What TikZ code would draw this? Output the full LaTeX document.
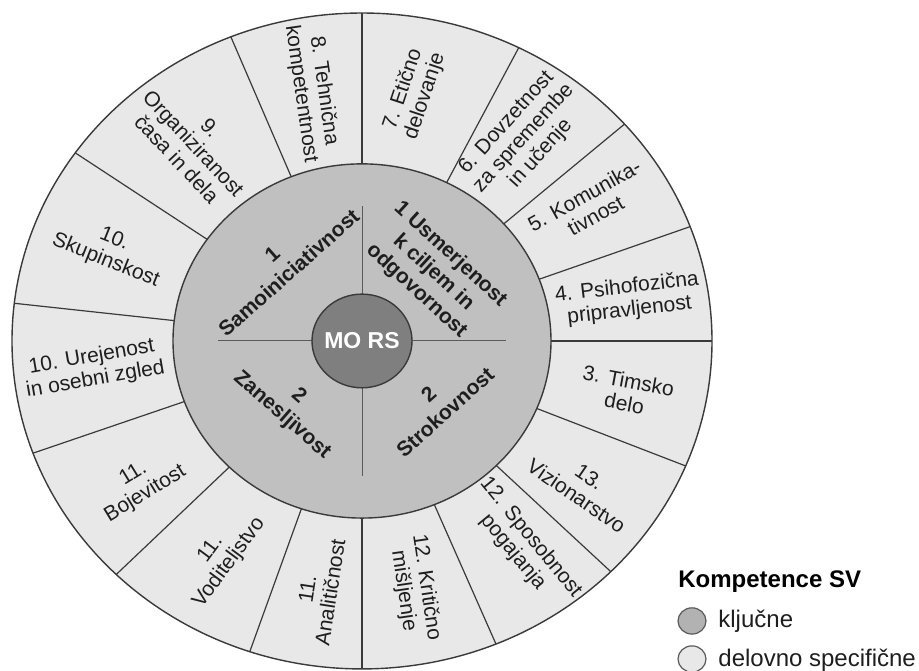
\documentclass[tikz,border=0pt]{standalone}
\usepackage{fontspec}
\setmainfont{Liberation Sans}
\definecolor{ringlight}{HTML}{E8E8E8}
\definecolor{ringmid}{HTML}{C0C0C0}
\definecolor{coredark}{HTML}{7F7F7F}
\definecolor{edgegray}{HTML}{3A3A3A}
\definecolor{crossgray}{HTML}{5A5A5A}
\definecolor{textgray}{HTML}{1E1E1E}
\definecolor{legdark}{HTML}{B2B2B2}

\begin{document}
\begin{tikzpicture}[
    x=0.5pt, y=0.4685pt,
    rim/.style={draw=edgegray, line width=0.7pt},
    spoke/.style={edgegray, line width=0.6pt},
    cross/.style={crossgray, line width=0.5pt},
    seglbl/.style={font=\fontsize{10.5}{11.5}\selectfont, text=textgray, align=center, inner sep=0pt},
    keylbl/.style={font=\fontsize{10.5}{12.5}\selectfont\bfseries, text=textgray, align=center, inner sep=0pt},
    corelbl/.style={font=\fontsize{11.5}{12}\selectfont\bfseries, text=white, inner sep=0pt},
    legdot/.style={draw=crossgray, line width=0.6pt},
    legtitle/.style={font=\fontsize{12}{14}\selectfont\bfseries, text=black, inner sep=0pt},
    legtext/.style={font=\fontsize{12}{14}\selectfont, text=textgray, inner sep=0pt}
  ]
  \useasboundingbox (-362,-352.2) rectangle (557,363.9);

  % Outer ring with its segments
  \draw[rim, fill=ringlight] (0,0) circle (350);
  \foreach \a in {90,112,145,173.4,200,225.4,251.3,270,292.5,315.3,337.6,0,20.4,41.4,63.4}
    \draw[spoke] (\a:189) -- (\a:350);

  % Inner ring and core
  \draw[rim, fill=ringmid] (0,0) circle (189);
  \foreach \a in {0,90,180,270}
    \draw[cross] (\a:50) -- (\a:144);
  \draw[rim, fill=coredark] (0,0) circle (50);
  \node[corelbl] (mors) at (0,0) {MO RS};

  % Key competences
  \node[keylbl, rotate=41.6] (samo) at (134.6:116) {1\\Samoiniciativnost};
  \node[keylbl, rotate=-42.6] (usmer) at (45.6:102) {1 Usmerjenost\\k ciljem in\\odgovornost};
  \node[keylbl, rotate=-41.3] (zanes) at (224:100) {2\\Zanesljivost};
  \node[keylbl, rotate=41.8] (strok) at (-41.5:100) {2\\Strokovnost};

  % Work specific competences
  \foreach \pa/\ro/\tx [count=\i] in {
      78.9/71.6/{7. Etično\\delovanje},
      53.2/47.9/{6. Dovzetnost\\za spremembe\\in učenje},
      32.4/29.2/{5. Komunika-\\tivnost},
      9.5/6.6/{4. Psihofozična\\pripravljenost},
      -11.6/-10.5/{3. Timsko\\delo},
      -35.1/-34.4/{13.\\Vizionarstvo},
      -53.7/-50.7/{12. Sposobnost\\pogajanja},
      -78.7/-81.7/{12. Kritično\\mišljenje},
      260.8/81.2/{11.\\Analitičnost},
      238.3/53.5/{11.\\Voditeljstvo},
      214.5/31.5/{11.\\Bojevitost},
      186.2/9.8/{10. Urejenost\\in osebni zgled},
      159/-21.8/{10.\\Skupinskost},
      128.6/-46.9/{9.\\Organiziranost\\časa in dela},
      100.6/-81.9/{8. Tehnična\\kompetentnost}}
    \node[seglbl, rotate=\ro] (seg\i) at (\pa:270) {\tx};

  % Legend
  \node[legtitle, anchor=base west] (legtitle) at (316,-263.6) {Kompetence SV};
  \draw[legdot, fill=legdark] (330,-298.8) circle (14);
  \node[legtext, anchor=base west] (legkey) at (356,-306.3) {ključne};
  \draw[legdot, fill=ringlight] (330,-339.4) circle (14);
  \node[legtext, anchor=base west] (legwork) at (356,-347.9) {delovno specifične};
\end{tikzpicture}
\end{document}
